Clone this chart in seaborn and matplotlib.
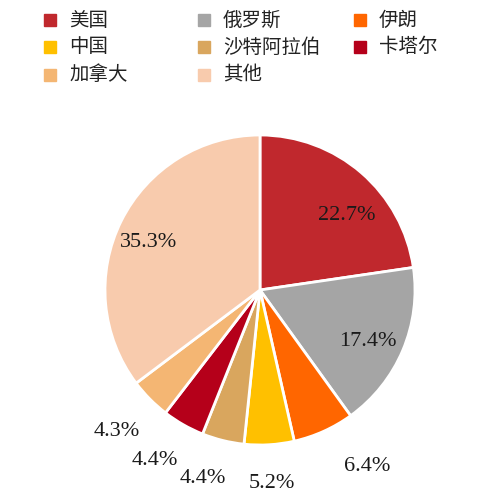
import numpy as np
import matplotlib
matplotlib.use('Agg')
import matplotlib.pyplot as plt
import seaborn as sns
from matplotlib.patches import Rectangle

sns.set_theme(style='white')
plt.rcParams['font.family'] = ['Noto Sans CJK SC', 'DejaVu Sans']

# data
countries = ['美国', '俄罗斯', '伊朗', '中国', '沙特阿拉伯', '卡塔尔', '加拿大', '其他']
shares = [22.7, 17.4, 6.4, 5.2, 4.4, 4.4, 4.3, 35.3]
colors = ['#C0282D', '#A5A5A5', '#FF6600', '#FFC000', '#D9A65E', '#B5001A', '#F4B673', '#F8CBAD']
label_dist = [0.74, 0.77, 1.33, 1.25, 1.27, 1.29, 1.3, 0.78]
label_shift = [-8.5, -2.5, 7, 0, -3, -2, 0, 3.5]  # degrees, nudges for readability

palette = sns.color_palette(colors)

fig = plt.figure(figsize=(5.02, 4.96), dpi=100)
W, H = 502, 496
ax = fig.add_axes([105 / W, 51 / H, 310 / W, 310 / H])
wedges, _ = ax.pie(shares, colors=palette, startangle=90, counterclock=False,
                   radius=1, wedgeprops=dict(edgecolor='white', linewidth=2))
ax.set_xlim(-1, 1)
ax.set_ylim(-1, 1)
ax.set_aspect('equal')
ax.axis('off')

for w, v, d, s in zip(wedges, shares, label_dist, label_shift):
    ang = np.deg2rad((w.theta1 + w.theta2) / 2 + s)
    ax.text(d * np.cos(ang), d * np.sin(ang), f'{v:.1f}%', ha='center', va='center',
            fontsize=16, family=['Liberation Serif'], color='#1a1a1a')

# legend drawn as three columns
col_x = [50, 204, 360]
row_y = [20, 47, 75]
for i, (name, c) in enumerate(zip(countries, palette)):
    cx = col_x[i % 3]
    cy = row_y[i // 3]
    fig.patches.append(Rectangle(((cx - 6) / W, 1 - (cy + 6) / H), 12 / W, 12 / H,
                                 transform=fig.transFigure, color=c, figure=fig))
    fig.text((cx + 19) / W, 1 - cy / H, name, ha='left', va='center',
             fontsize=14, color='#222222')

fig.savefig('out.png', dpi=100)
